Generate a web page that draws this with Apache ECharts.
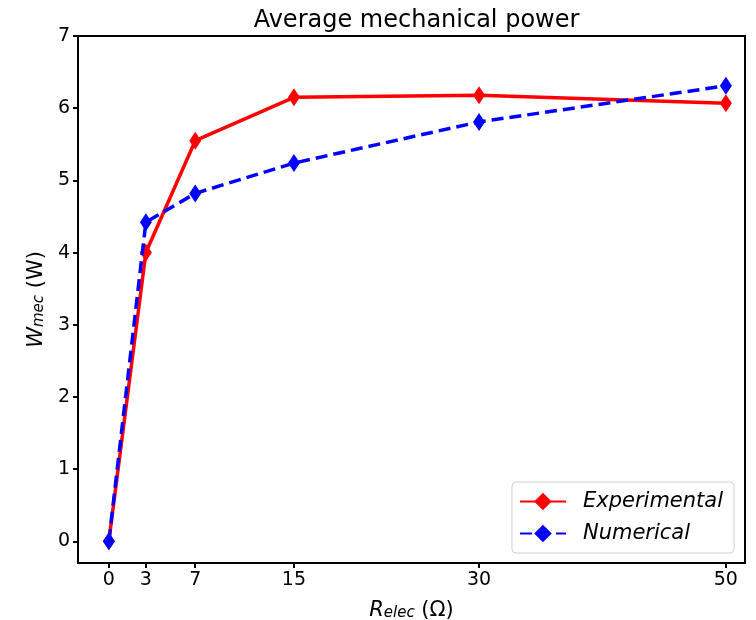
<!DOCTYPE html>
<html>
<head>
<meta charset="utf-8">
<script src="https://cdn.jsdelivr.net/npm/echarts@6/dist/echarts.min.js"></script>
<style>html,body{margin:0;padding:0;background:#fff;}#chart{width:756px;height:620px;}</style>
</head>
<body>
<div id="chart"></div>
<script>
const resistance = [0, 3, 7, 15, 30, 50];
const experimental = [0, 4.0, 5.55, 6.15, 6.18, 6.07];
const numerical = [0, 4.42, 4.82, 5.24, 5.81, 6.31];
const xTicks = [0, 3, 7, 15, 30, 50];
const yTicks = [0, 1, 2, 3, 4, 5, 6, 7];

const FONT = 'DejaVu Sans';
const chart = echarts.init(document.getElementById('chart'), null, {renderer: 'canvas'});
const pair = (xs, ys) => xs.map((x, i) => [x, ys[i]]);
const nameRich = {
  i: {fontFamily: FONT, fontSize: 21, fontStyle: 'italic', color: '#000', verticalAlign: 'bottom', lineHeight: 26},
  sub: {fontFamily: FONT, fontSize: 15, fontStyle: 'italic', color: '#000', verticalAlign: 'bottom', lineHeight: 20},
  n: {fontFamily: FONT, fontSize: 21, color: '#000', verticalAlign: 'bottom', lineHeight: 26}
};

chart.setOption({
  animation: false,
  backgroundColor: '#fff',
  textStyle: {fontFamily: FONT},
  title: {
    text: 'Average mechanical power',
    left: 411.5, top: 4, textAlign: 'center',
    textStyle: {fontFamily: FONT, fontSize: 24, fontWeight: 'normal', color: '#000'}
  },
  grid: {left: 78, right: 11, top: 36, bottom: 57, containLabel: false, outerBoundsMode: 'none',
    show: true, borderColor: '#000', borderWidth: 2, backgroundColor: 'transparent'},
  legend: {
    right: 22, bottom: 67,
    orient: 'vertical',
    itemWidth: 46, itemHeight: 22, itemGap: 11,
    padding: [9, 11, 9, 7],
    borderColor: '#d0d0d0', borderWidth: 1, borderRadius: 4,
    backgroundColor: 'rgba(255,255,255,0.8)',
    textStyle: {fontFamily: FONT, fontSize: 21, fontStyle: 'italic', color: '#000', padding: [0, 0, 0, 12]},
    data: ['Experimental', 'Numerical']
  },
  xAxis: {
    type: 'value', min: -2.5, max: 51.55,
    name: '{i|R}{sub|elec}{n| (Ω)}',
    nameLocation: 'middle', nameGap: 32,
    nameTextStyle: {rich: nameRich},
    axisLine: {show: true, onZero: false, lineStyle: {color: '#000', width: 2}},
    axisTick: {show: true, inside: false, customValues: xTicks, length: 5, lineStyle: {color: '#000', width: 2}},
    axisLabel: {customValues: xTicks, fontFamily: FONT, fontSize: 19, color: '#000', margin: 8},
    splitLine: {show: false}
  },
  yAxis: {
    type: 'value', min: -0.3, max: 7,
    name: '{i|W}{sub|mec}{n| (W)}',
    nameLocation: 'middle', nameGap: 29, nameRotate: 90,
    nameTextStyle: {rich: nameRich},
    axisLine: {show: true, onZero: false, lineStyle: {color: '#000', width: 2}},
    axisTick: {show: true, inside: false, customValues: yTicks, length: 5, lineStyle: {color: '#000', width: 2}},
    axisLabel: {customValues: yTicks, fontFamily: FONT, fontSize: 19, color: '#000', margin: 8},
    splitLine: {show: false}
  },
  series: [
    {
      name: 'Experimental', type: 'line', data: pair(resistance, experimental),
      symbol: 'diamond', symbolSize: [12, 18], showAllSymbol: true,
      lineStyle: {color: '#ff0000', width: 3.5},
      itemStyle: {color: '#ff0000'}, z: 2
    },
    {
      name: 'Numerical', type: 'line', data: pair(resistance, numerical),
      symbol: 'diamond', symbolSize: [12, 18], showAllSymbol: true,
      lineStyle: {color: '#0000ff', width: 3.5, type: [12, 6]},
      itemStyle: {color: '#0000ff'}, z: 3
    }
  ]
});
</script>
</body>
</html>
